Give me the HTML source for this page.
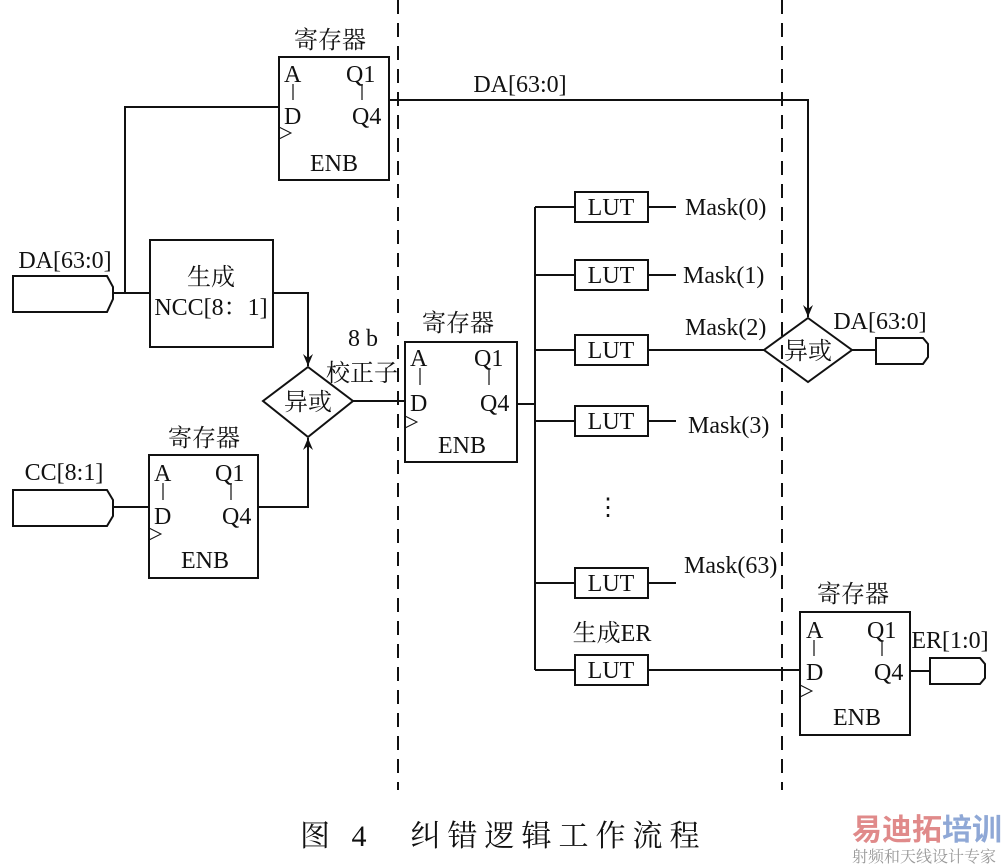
<!DOCTYPE html>
<html><head><meta charset="utf-8"><style>
html,body{margin:0;padding:0;background:#fff;}
svg{display:block;}
text{font-family:"Liberation Serif","Noto Serif CJK SC",serif;fill:#111;}
</style></head><body>
<svg width="1008" height="867" viewBox="0 0 1008 867" xmlns="http://www.w3.org/2000/svg">
<defs>
<marker id="ar" markerWidth="14" markerHeight="12" refX="12" refY="5" orient="auto" markerUnits="userSpaceOnUse">
<path d="M0,0 L12,5 L0,10 L4,5 Z" fill="#111"/></marker>
</defs>
<g stroke="#111" stroke-width="2" fill="none">
<line x1="398" y1="0" x2="398" y2="790" stroke-dasharray="14,9"/>
<line x1="782" y1="0" x2="782" y2="790" stroke-dasharray="14,9"/>
<rect x="279" y="57" width="110" height="123"/>
<line x1="293" y1="84" x2="293" y2="100" stroke-width="1.2"/>
<line x1="362" y1="84" x2="362" y2="100" stroke-width="1.2"/>
<path d="M279,127 L291,133 L279,139" stroke-width="1"/>
<polyline points="389,100 808,100 808,317" marker-end="url(#ar)"/>
<polyline points="125,293 125,107 279,107"/>
<path d="M13,276 L107,276 L113,287 L113,299 L107,312 L13,312 Z"/>
<line x1="113" y1="293" x2="150" y2="293"/>
<rect x="150" y="240" width="123" height="107"/>
<polyline points="273,293 308,293 308,366" marker-end="url(#ar)"/>
<path d="M308,367 L353,401 L308,437 L263,401 Z"/>
<line x1="353" y1="401" x2="405" y2="401"/>
<rect x="149" y="455" width="109" height="123"/>
<line x1="163" y1="483" x2="163" y2="500" stroke-width="1.2"/>
<line x1="231" y1="483" x2="231" y2="500" stroke-width="1.2"/>
<path d="M149,528 L161,534 L149,540" stroke-width="1"/>
<path d="M13,490 L107,490 L113,500 L113,516 L107,526 L13,526 Z"/>
<line x1="113" y1="507" x2="149" y2="507"/>
<polyline points="258,507 308,507 308,438" marker-end="url(#ar)"/>
<rect x="405" y="342" width="112" height="120"/>
<line x1="420" y1="368" x2="420" y2="385" stroke-width="1.2"/>
<line x1="489" y1="368" x2="489" y2="385" stroke-width="1.2"/>
<path d="M405,416 L417,422 L405,428" stroke-width="1"/>
<line x1="517" y1="404" x2="535" y2="404"/>
<line x1="535" y1="207" x2="535" y2="670"/>
<line x1="535" y1="207" x2="575" y2="207"/><rect x="575" y="192" width="73" height="30"/><line x1="648" y1="207" x2="676" y2="207"/>
<line x1="535" y1="275" x2="575" y2="275"/><rect x="575" y="260" width="73" height="30"/><line x1="648" y1="275" x2="676" y2="275"/>
<line x1="535" y1="350" x2="575" y2="350"/><rect x="575" y="335" width="73" height="30"/><line x1="648" y1="350" x2="764" y2="350"/>
<line x1="535" y1="421" x2="575" y2="421"/><rect x="575" y="406" width="73" height="30"/><line x1="648" y1="421" x2="676" y2="421"/>
<line x1="535" y1="583" x2="575" y2="583"/><rect x="575" y="568" width="73" height="30"/><line x1="648" y1="583" x2="676" y2="583"/>
<line x1="535" y1="670" x2="575" y2="670"/><rect x="575" y="655" width="73" height="30"/><line x1="648" y1="670" x2="800" y2="670"/>
<path d="M808,318 L852,350 L808,382 L764,350 Z"/>
<line x1="852" y1="350" x2="876" y2="350"/>
<path d="M876,338 L923,338 L928,344 L928,357 L923,364 L876,364 Z"/>
<rect x="800" y="612" width="110" height="123"/>
<line x1="814" y1="640" x2="814" y2="656" stroke-width="1.2"/>
<line x1="882" y1="640" x2="882" y2="656" stroke-width="1.2"/>
<path d="M800,685 L812,691 L800,697" stroke-width="1"/>
<line x1="910" y1="671" x2="930" y2="671"/>
<path d="M930,658 L980,658 L985,664 L985,678 L980,684 L930,684 Z"/>
</g>
<g font-size="24">
<text x="330" y="48" text-anchor="middle">寄存器</text>
<text x="284" y="82">A</text><text x="346" y="82">Q1</text>
<text x="284" y="124">D</text><text x="352" y="124">Q4</text>
<text x="334" y="171" text-anchor="middle">ENB</text>
<text x="520" y="92" text-anchor="middle">DA[63:0]</text>
<text x="65" y="268" text-anchor="middle">DA[63:0]</text>
<text x="211" y="285" text-anchor="middle">生成</text>
<text x="211" y="315" text-anchor="middle">NCC[8：1]</text>
<text x="363" y="346" text-anchor="middle">8 b</text>
<text x="362" y="381" text-anchor="middle">校正子</text>
<text x="308" y="410" text-anchor="middle">异或</text>
<text x="204" y="446" text-anchor="middle">寄存器</text>
<text x="64" y="480" text-anchor="middle">CC[8:1]</text>
<text x="154" y="481">A</text><text x="215" y="481">Q1</text>
<text x="154" y="524">D</text><text x="222" y="524">Q4</text>
<text x="205" y="568" text-anchor="middle">ENB</text>
<text x="458" y="331" text-anchor="middle">寄存器</text>
<text x="410" y="366">A</text><text x="474" y="366">Q1</text>
<text x="410" y="411">D</text><text x="480" y="411">Q4</text>
<text x="462" y="453" text-anchor="middle">ENB</text>
<text x="611" y="215" text-anchor="middle">LUT</text>
<text x="611" y="283" text-anchor="middle">LUT</text>
<text x="611" y="358" text-anchor="middle">LUT</text>
<text x="611" y="429" text-anchor="middle">LUT</text>
<text x="611" y="591" text-anchor="middle">LUT</text>
<text x="611" y="678" text-anchor="middle">LUT</text>
<text x="608" y="515" text-anchor="middle">⋮</text>
<text x="612" y="641" text-anchor="middle">生成ER</text>
<text x="685" y="215">Mask(0)</text>
<text x="683" y="283">Mask(1)</text>
<text x="685" y="335">Mask(2)</text>
<text x="688" y="433">Mask(3)</text>
<text x="684" y="573">Mask(63)</text>
<text x="808" y="359" text-anchor="middle">异或</text>
<text x="880" y="329" text-anchor="middle">DA[63:0]</text>
<text x="853" y="602" text-anchor="middle">寄存器</text>
<text x="806" y="638">A</text><text x="867" y="638">Q1</text>
<text x="806" y="680">D</text><text x="874" y="680">Q4</text>
<text x="857" y="725" text-anchor="middle">ENB</text>
<text x="950" y="648" text-anchor="middle">ER[1:0]</text>
</g>
<text x="300" y="846" font-size="30" letter-spacing="7">图 4　纠错逻辑工作流程</text>
<text x="852" y="840" font-size="30" font-weight="bold" style="fill:#e08a8a;font-family:'Noto Sans CJK SC',sans-serif">易迪拓<tspan style="fill:#8fa8d6">培训</tspan></text>
<text x="852" y="862" font-size="16" style="fill:#999">射频和天线设计专家</text>
</svg>
</body></html>
